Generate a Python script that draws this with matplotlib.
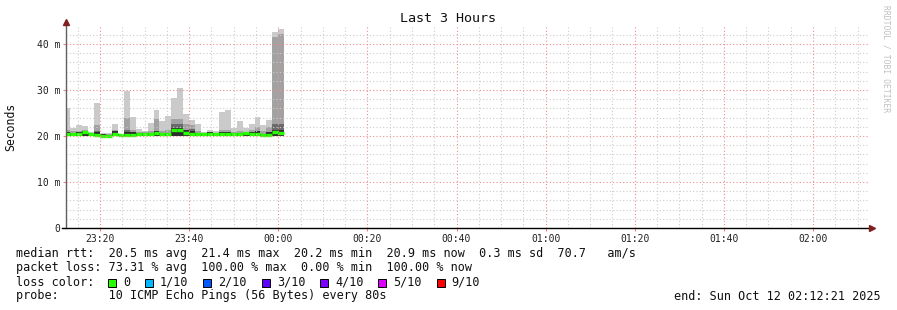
import numpy as np
import matplotlib
matplotlib.use("Agg")
import matplotlib.pyplot as plt
from matplotlib.ticker import MultipleLocator, FuncFormatter
from matplotlib.patches import Rectangle
from matplotlib.lines import Line2D

# time axis: minutes after 23:00 (Oct 11); window ends 02:12:21
window_start = 12 + 21 / 60.0
window_end = window_start + 180
data_start = 12 + 0 / 60.0   # first RRD step begins just before the window
step_min = 80 / 60.0

# smoke per 80 s step (ms)
smoke_max = [26.1, 21.8, 22.4, 22.2, 20.9, 27.2, 20.7, 20.6, 22.6, 20.5,
             29.8, 24.2, 21.5, 21.0, 22.9, 25.7, 23.3, 24.3, 28.3, 30.5,
             24.8, 23.4, 22.6, 20.8, 21.2, 21.0, 25.2, 25.7, 21.8, 23.2,
             21.8, 22.6, 24.1, 22.4, 23.5, 42.5, 43.3]
smoke_q3 = [21.3, 21.0, 21.1, 21.4, 20.7, 22.4, 20.5, 20.5, 21.4, 20.4,
            23.8, 21.2, 20.9, 20.8, 21.0, 23.7, 21.0, 21.2, 23.7, 23.7,
            22.6, 22.4, 21.0, 20.6, 20.9, 20.7, 21.2, 21.4, 20.9, 21.0,
            20.8, 21.4, 22.0, 21.0, 22.0, 41.5, 42.2]
smoke_inner = [20.8, 20.7, 20.8, 21.1, 20.6, 21.0, 20.4, 20.3, 21.0, 20.4,
               21.2, 20.8, 20.6, 20.6, 20.7, 21.0, 20.7, 20.7, 22.6, 22.6,
               21.2, 21.6, 20.7, 20.5, 20.9, 20.6, 20.8, 20.8, 20.6, 20.7,
               20.7, 20.9, 21.0, 20.5, 20.8, 22.6, 22.6]
smoke_min = [20.0] * 37
median_rtt = [20.4, 20.4, 20.5, 20.8, 20.4, 20.3, 20.1, 20.0, 20.4, 20.2,
              20.3, 20.3, 20.4, 20.4, 20.4, 20.6, 20.4, 20.4, 21.2, 21.2,
              20.7, 20.5, 20.4, 20.4, 20.4, 20.5, 20.4, 20.4, 20.4, 20.4,
              20.6, 20.4, 20.4, 20.2, 20.3, 20.8, 20.6]

loss_labels = ["0", "1/10", "2/10", "3/10", "4/10", "5/10", "9/10"]
loss_colors = ["#26ff00", "#00b8ff", "#0059ff", "#5e00ff", "#7e00ff", "#dd00ff", "#ff0000"]

legend_lines = [
    "median rtt:  20.5 ms avg  21.4 ms max  20.2 ms min  20.9 ms now  0.3 ms sd  70.7   am/s",
    "packet loss: 73.31 % avg  100.00 % max  0.00 % min  100.00 % now",
    "loss color:",
    "probe:       10 ICMP Echo Pings (56 Bytes) every 80s",
]
end_text = "end: Sun Oct 12 02:12:21 2025"

W, H = 897, 310
mono = "DejaVu Sans Mono"

fig = plt.figure(figsize=(W / 100, H / 100), dpi=100)
fig.patch.set_facecolor("white")
ax = fig.add_axes([66 / W, 82 / H, 802 / W, 202 / H])

starts = data_start + np.arange(len(smoke_max)) * step_min
smax = np.array(smoke_max)
sq3 = np.array(smoke_q3)
sin = np.array(smoke_inner)
smin = np.array(smoke_min)
med = np.array(median_rtt)

ax.bar(starts, smax - smin, bottom=smin, width=step_min, align="edge",
       color="#cacaca", linewidth=0, zorder=1)
ax.bar(starts, sq3 - smin, bottom=smin, width=step_min, align="edge",
       color="#a2a2a2", linewidth=0, zorder=1.1)
ax.bar(starts, sin - smin, bottom=smin, width=step_min, align="edge",
       color="#6a6a6a", linewidth=0, zorder=1.2)
ax.bar(starts, np.minimum(sin, med + 0.6) - smin, bottom=smin, width=step_min,
       align="edge", color="#2e2e2e", linewidth=0, zorder=1.3)
ax.hlines(med, starts, starts + step_min, color=loss_colors[0], lw=2.4, zorder=2)

ax.set_xlim(window_start, window_end)
ax.set_ylim(0, 43.9)

ax.xaxis.set_major_locator(MultipleLocator(20))
ax.xaxis.set_minor_locator(MultipleLocator(5))
ax.yaxis.set_major_locator(MultipleLocator(10))
ax.yaxis.set_minor_locator(MultipleLocator(2))


def fmt_time(m, pos):
    m = int(round(m))
    return "%02d:%02d" % ((23 + m // 60) % 24, m % 60)


def fmt_ms(v, pos):
    return "0" if abs(v) < 1e-9 else "%d m" % round(v)


ax.xaxis.set_major_formatter(FuncFormatter(fmt_time))
ax.yaxis.set_major_formatter(FuncFormatter(fmt_ms))

ax.set_axisbelow(False)
ax.grid(which="minor", color="#cccccc", linestyle=(0, (1, 2)), lw=0.8)
ax.grid(which="major", color="#f08c8c", linestyle=(0, (1, 2)), lw=0.8)

for s in ("top", "right", "left", "bottom"):
    ax.spines[s].set_visible(False)

ax.tick_params(which="major", length=2.5, width=0.8, color="#ff8080",
               labelsize=7, labelcolor="#202020")
ax.tick_params(axis="y", pad=1.8)
ax.tick_params(axis="x", pad=2.0)
ax.tick_params(which="minor", length=0)
for lab in ax.get_xticklabels() + ax.get_yticklabels():
    lab.set_family(mono)

# axis lines with arrow heads
ax.add_line(Line2D([0, 0], [0, 1.015], transform=ax.transAxes, color="#606060",
                   lw=1, clip_on=False, zorder=5))
ax.add_line(Line2D([-4 / 802, 1.004], [0, 0], transform=ax.transAxes, color="#000000",
                   lw=1, clip_on=False, zorder=5))
ax.plot([0], [1.02], marker="^", ms=4.5, color="#802020", transform=ax.transAxes,
        clip_on=False, zorder=6)
ax.plot([1.005], [0], marker=">", ms=4.5, color="#802020", transform=ax.transAxes,
        clip_on=False, zorder=6)


def px(x, y):
    return x / W, 1 - y / H


fig.text(*px(448, 19), "Last 3 Hours", ha="center", va="center",
         family=mono, fontsize=9.6, color="#101010")
fig.text(*px(11, 127), "Seconds", ha="center", va="center", rotation=90,
         family=mono, fontsize=8.3, color="#101010")
fig.text(*px(886, 5), "RRDTOOL / TOBI OETIKER", ha="center", va="top", rotation=270,
         family=mono, fontsize=5.8, color="#c0c0c0")

line_y = [254, 268, 282, 296]
for s, y in zip(legend_lines, line_y):
    fig.text(*px(16, y), s, ha="left", va="center", family=mono,
             fontsize=8.5, color="#101010")
fig.text(*px(881, 296), end_text, ha="right", va="center", family=mono,
         fontsize=8.5, color="#101010")

# loss colour swatches
cw = 7.08
x = 108
for lab, col in zip(loss_labels, loss_colors):
    bx, by = px(x, 287)
    fig.patches.append(Rectangle((bx, by), 8 / W, 8 / H, transform=fig.transFigure,
                                 facecolor=col, edgecolor="#000000", lw=0.7))
    fig.text(*px(x + 15, 282), lab, ha="left", va="center", family=mono,
             fontsize=8.5, color="#101010")
    x += 15 + len(lab) * cw + 15

fig.savefig("out.png", dpi=100)
